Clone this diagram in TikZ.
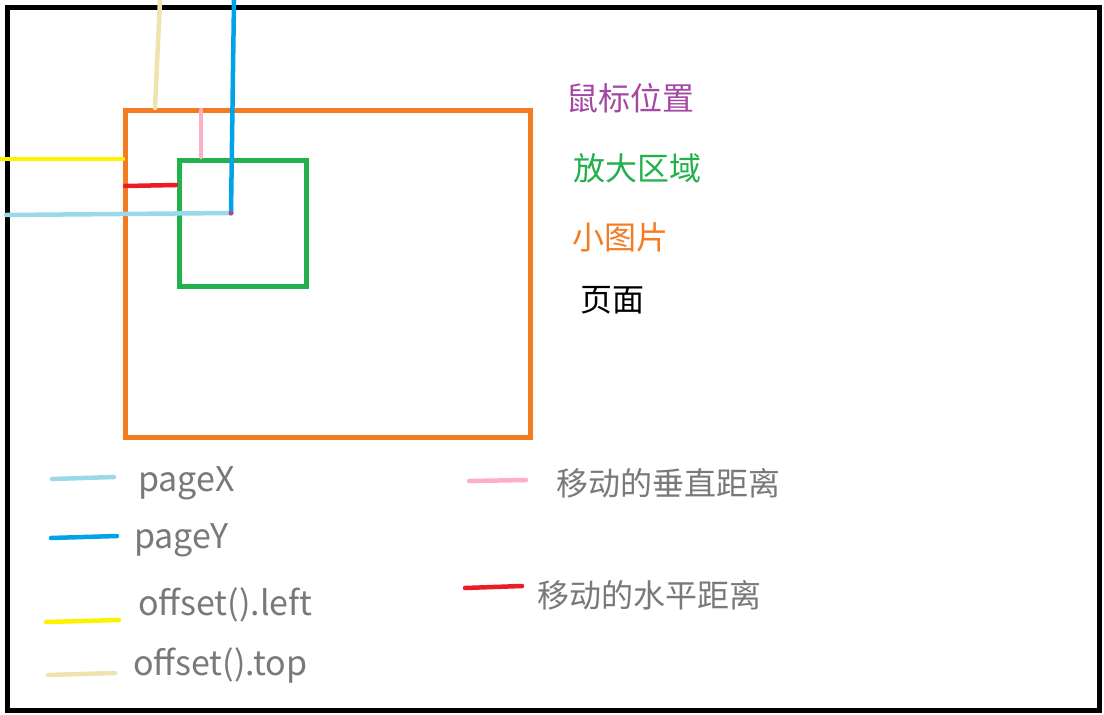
\documentclass[tikz,border=0pt]{standalone}
\usepackage{fontspec}
\setmainfont{Noto Sans CJK SC}
\begin{document}
\begin{tikzpicture}[x=1pt,y=-1pt,
  ln/.style={line width=4.5pt,line cap=round},
  lab/.style={anchor=west,inner sep=0pt,font=\fontsize{32}{36}\selectfont},
  leg/.style={lab,text=gray!95!black},
  legl/.style={leg,font=\fontsize{34}{38}\selectfont}]
\definecolor{cor}{HTML}{F47B20}\definecolor{cgr}{HTML}{22B14C}
\definecolor{cbl}{HTML}{00A2E8}\definecolor{clb}{HTML}{99D9EA}
\definecolor{cye}{HTML}{FFF200}\definecolor{cbe}{HTML}{EFE4B0}
\definecolor{cpk}{HTML}{FFAEC9}\definecolor{crd}{HTML}{ED1C24}
\definecolor{cpu}{HTML}{A349A4}
\useasboundingbox (0,0) rectangle (1104,715);
\fill[white] (0,0) rectangle (1104,715);
\node[draw=black,line width=5pt,minimum width=1092pt,minimum height=703pt,anchor=north west] (page) at (5,5) {};
\node[draw=cor,line width=4.5pt,minimum width=405pt,minimum height=327pt,anchor=north west] (img) at (123,108) {};
\node[draw=cgr,line width=4.5pt,minimum width=127pt,minimum height=126pt,anchor=north west] (zoom) at (177,158) {};
\coordinate (m) at (231,213);
\coordinate (t1) at (160,0); \coordinate (t2) at (155,108);
\draw[ln,cbe] (t1) -- (t2);
\coordinate (b1) at (234,0);
\draw[ln,cbl] (b1) -- (m);
\coordinate (p1) at (201,110); \coordinate (p2) at (201,157);
\draw[ln,cpk] (p1) -- (p2);
\coordinate (y1) at (0,159); \coordinate (y2) at (123,159);
\draw[ln,cye] (y1) -- (y2);
\coordinate (r1) at (125,186); \coordinate (r2) at (176,185);
\draw[ln,crd] (r1) -- (r2);
\coordinate (l1) at (6,215);
\draw[ln,clb] (l1) -- (m);
\fill[cpu] (m) circle (2.5pt);
\node[lab,text=cpu] (t_mouse) at (566,98) {鼠标位置};
\node[lab,text=cgr] (t_zoom) at (573,168) {放大区域};
\node[lab,text=cor] (t_img) at (572,237) {小图片};
\node[lab,text=black] (t_page) at (580,300) {页面};
\coordinate (a1) at (52,479); \coordinate (a2) at (114,477);
\draw[ln,clb] (a1) -- (a2); \node[legl] (px) at (138,483) {pageX};
\coordinate (a3) at (51,538); \coordinate (a4) at (117,536);
\draw[ln,cbl] (a3) -- (a4); \node[legl] (py) at (134,540) {pageY};
\coordinate (a5) at (46,622); \coordinate (a6) at (119,620);
\draw[ln,cye] (a5) -- (a6); \node[legl] (ol) at (138,605) {offset().left};
\coordinate (a7) at (48,675); \coordinate (a8) at (115,673);
\draw[ln,cbe] (a7) -- (a8); \node[legl] (ot) at (133,665) {offset().top};
\coordinate (a9) at (469,481); \coordinate (a10) at (526,480);
\draw[ln,cpk] (a9) -- (a10); \node[leg] (vd) at (556,483) {移动的垂直距离};
\coordinate (a11) at (465,588); \coordinate (a12) at (522,586);
\draw[ln,crd] (a11) -- (a12); \node[leg] (hd) at (537,595) {移动的水平距离};
\end{tikzpicture}
\end{document}
